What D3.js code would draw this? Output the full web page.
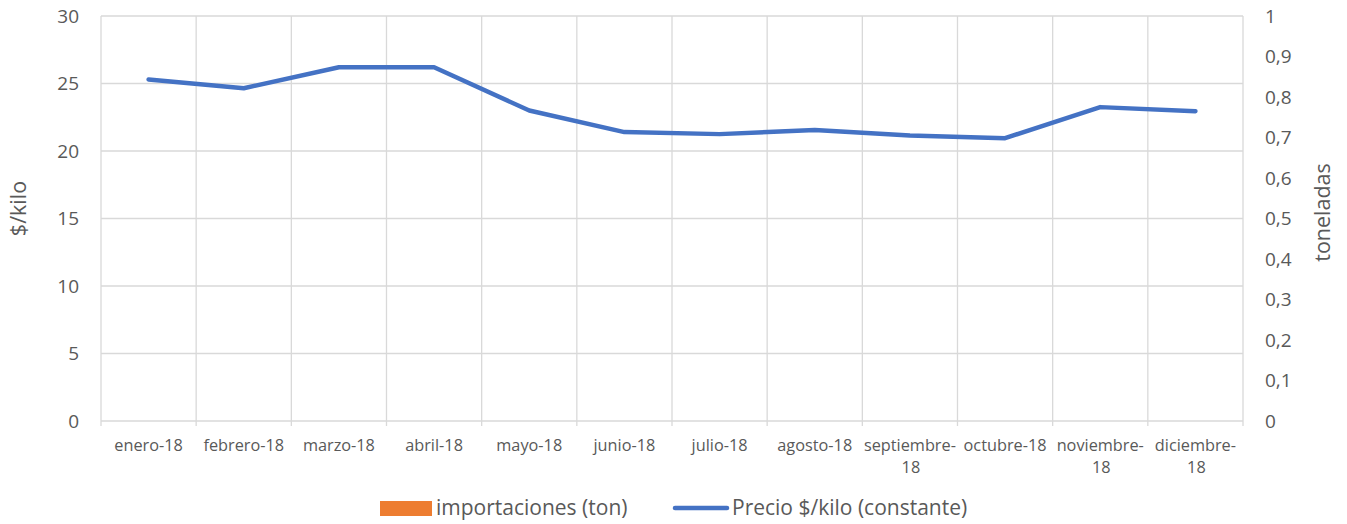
<!DOCTYPE html>
<html>
<head>
<meta charset="utf-8">
<script src="https://cdn.jsdelivr.net/npm/d3@7"></script>
<style>
  body { margin: 0; background: #fff; }
  text { font-family: "Open Sans", Lato, sans-serif; fill: #595959; }
</style>
</head>
<body>
<div id="chart"></div>
<script>
// months on the x axis
const months = ["enero-18", "febrero-18", "marzo-18", "abril-18", "mayo-18", "junio-18",
  "julio-18", "agosto-18", "septiembre-18", "octubre-18", "noviembre-18", "diciembre-18"];
// price series, $/kilo (left axis)
const precio = [25.3, 24.65, 26.2, 26.2, 23.0, 21.4, 21.25, 21.55, 21.15, 20.95, 23.25, 22.95];
// imports series, tons (right axis) - nothing shows in the picture
const importaciones = [0, 0, 0, 0, 0, 0, 0, 0, 0, 0, 0, 0];
const leftTicks = [0, 5, 10, 15, 20, 25, 30];
const rightTicks = [0, 0.1, 0.2, 0.3, 0.4, 0.5, 0.6, 0.7, 0.8, 0.9, 1];

const width = 1347, height = 524;
const margin = {top: 16, right: 104, bottom: 103, left: 101};

const svg = d3.select("#chart").append("svg")
  .attr("width", width)
  .attr("height", height);

const x = d3.scaleBand()
  .domain(months)
  .range([margin.left, width - margin.right]);

const yL = d3.scaleLinear().domain([0, 30]).range([height - margin.bottom, margin.top]);
const yR = d3.scaleLinear().domain([0, 1]).range([height - margin.bottom, margin.top]);

// horizontal gridlines
svg.append("g")
  .selectAll("line")
  .data(leftTicks)
  .enter().append("line")
  .attr("x1", margin.left).attr("x2", width - margin.right)
  .attr("y1", d => yL(d)).attr("y2", d => yL(d))
  .attr("stroke", "#d9d9d9").attr("stroke-width", 1.3);

// vertical gridlines on category edges
const edges = months.map(m => x(m)).concat([x.range()[1]]);
svg.append("g")
  .selectAll("line")
  .data(edges)
  .enter().append("line")
  .attr("x1", d => d).attr("x2", d => d)
  .attr("y1", margin.top).attr("y2", yL(0) + 5)
  .attr("stroke", "#d9d9d9").attr("stroke-width", 1.3);

// left axis labels
svg.append("g")
  .selectAll("text")
  .data(leftTicks)
  .enter().append("text")
  .attr("x", 79)
  .attr("y", d => yL(d))
  .attr("dy", "0.35em")
  .attr("text-anchor", "end")
  .attr("font-size", 19)
  .text(d => d);

// right axis labels
const fmt = d => String(d).replace(".", ",");
svg.append("g")
  .selectAll("text")
  .data(rightTicks)
  .enter().append("text")
  .attr("x", 1265)
  .attr("y", d => yR(d))
  .attr("dy", "0.35em")
  .attr("font-size", 19)
  .text(d => fmt(d));

// category labels, wrapped after the dash when too long
const catLabels = svg.append("g")
  .selectAll("text")
  .data(months)
  .enter().append("text")
  .attr("x", d => x(d) + x.bandwidth() / 2)
  .attr("y", 451)
  .attr("text-anchor", "middle")
  .attr("font-size", 16.3);
catLabels.each(function(d) {
  const t = d3.select(this);
  if (d.length > 11) {
    const parts = d.split("-");
    t.append("tspan").attr("x", x(d) + x.bandwidth() / 2).text(parts[0] + "-");
    t.append("tspan").attr("x", x(d) + x.bandwidth() / 2 + 1).attr("dy", 22).text(parts[1]);
  } else {
    t.text(d);
  }
});

// import bars (zero height)
svg.append("g")
  .selectAll("rect")
  .data(importaciones)
  .enter().append("rect")
  .attr("x", (d, i) => x(months[i]) + x.bandwidth() * 0.2)
  .attr("width", x.bandwidth() * 0.6)
  .attr("y", d => yR(d))
  .attr("height", d => yR(0) - yR(d))
  .attr("fill", "#ED7D31");

// price line
const line = d3.line()
  .x((d, i) => x(months[i]) + x.bandwidth() / 2)
  .y(d => yL(d));
svg.append("path")
  .datum(precio)
  .attr("d", line)
  .attr("fill", "none")
  .attr("stroke", "#4472C4")
  .attr("stroke-width", 4.5)
  .attr("stroke-linejoin", "round")
  .attr("stroke-linecap", "round");

// axis titles
svg.append("text")
  .attr("transform", `translate(26,${(margin.top + yL(0)) / 2 - 10}) rotate(-90)`)
  .attr("text-anchor", "middle")
  .attr("font-size", 21.5)
  .text("$/kilo");
svg.append("text")
  .attr("transform", `translate(1330,${(margin.top + yL(0)) / 2 - 6}) rotate(-90)`)
  .attr("text-anchor", "middle")
  .attr("font-size", 21.5)
  .text("toneladas");

// legend
const leg = svg.append("g");
leg.append("rect")
  .attr("x", 380).attr("y", 501).attr("width", 52).attr("height", 15)
  .attr("fill", "#ED7D31");
leg.append("text")
  .attr("x", 436).attr("y", 515)
  .attr("font-size", 21)
  .text("importaciones (ton)");
leg.append("line")
  .attr("x1", 675).attr("x2", 727).attr("y1", 508).attr("y2", 508)
  .attr("stroke", "#4472C4").attr("stroke-width", 4.5).attr("stroke-linecap", "round");
leg.append("text")
  .attr("x", 732).attr("y", 515)
  .attr("font-size", 21)
  .text("Precio $/kilo (constante)");
</script>
</body>
</html>
